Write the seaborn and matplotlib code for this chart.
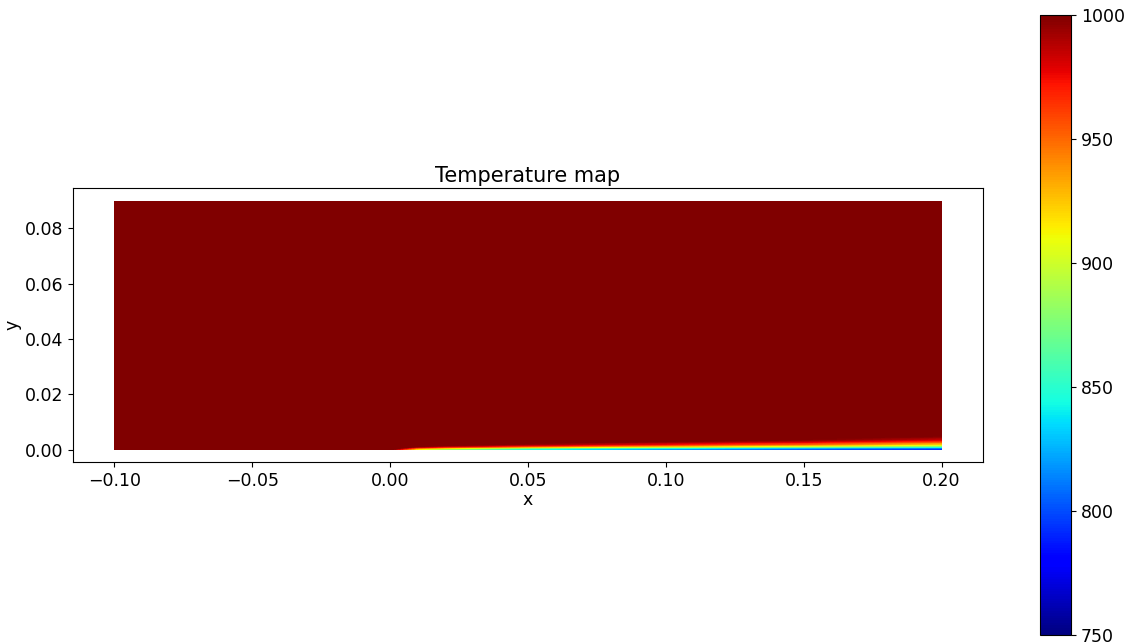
import numpy as np
import matplotlib
matplotlib.use("Agg")
import matplotlib.pyplot as plt
import seaborn as sns

# Free-stream and colour range
T_inf = 1000.0
T_min, T_max = 750.0, 1000.0

# Plate stations (plate starts at x = 0) with near-wall temperature and thermal layer thickness
x_station = [0.0, 0.01, 0.02, 0.05, 0.10, 0.15, 0.20]
wall_temp = [1000.0, 900.0, 870.0, 835.0, 810.0, 795.0, 785.0]
layer_thickness = [0.0, 0.0011, 0.0015, 0.0022, 0.0030, 0.0038, 0.0050]

# Normalised temperature profile across the layer (eta = y / thickness)
eta_profile = [0.0, 0.1, 0.2, 0.35, 0.5, 0.65, 0.8, 0.9, 1.0]
theta_profile = [0.0, 0.2, 0.4, 0.62, 0.78, 0.89, 0.96, 0.99, 1.0]

# Domain
x_edges = np.linspace(-0.1, 0.2, 601)
y_edges = np.linspace(0.0, 0.09, 451)
xc = 0.5 * (x_edges[:-1] + x_edges[1:])
yc = 0.5 * (y_edges[:-1] + y_edges[1:])

Tw = np.interp(xc, x_station, wall_temp, left=T_inf)
delta = np.interp(xc, x_station, layer_thickness, left=0.0)

T = np.full((yc.size, xc.size), T_inf)
for j in range(xc.size):
    if xc[j] > 0 and delta[j] > 0:
        theta = np.interp(yc / delta[j], eta_profile, theta_profile, right=1.0)
        T[:, j] = Tw[j] + (T_inf - Tw[j]) * theta

sns.set_style("ticks")
plt.rcParams.update({
    "font.family": ["DejaVu Sans"],
    "text.color": "black",
    "axes.labelcolor": "black",
    "xtick.color": "black",
    "ytick.color": "black",
    "axes.edgecolor": "black",
})

fig = plt.figure(figsize=(11.27, 6.44), dpi=100)
ax = fig.add_axes([0.0648, 0.2826, 0.8074, 0.4254])
cax = fig.add_axes([0.9228, 0.014, 0.0275, 0.963])

cmap = matplotlib.colormaps["jet"]
mesh = ax.pcolormesh(x_edges, y_edges, T, cmap=cmap, vmin=T_min, vmax=T_max,
                     shading="flat", rasterized=True)
ax.set_xlim(-0.115, 0.215)
ax.set_ylim(-0.0045, 0.0945)
ax.set_xticks([-0.10, -0.05, 0.00, 0.05, 0.10, 0.15, 0.20])
ax.set_yticks([0.00, 0.02, 0.04, 0.06, 0.08])
ax.set_xlabel("x", fontsize=12.5, labelpad=1)
ax.set_ylabel("y", fontsize=12.5, labelpad=2)
ax.set_title("Temperature map", fontsize=15, pad=4)
ax.tick_params(labelsize=12.5, length=3.5, width=0.8, colors="black")
for s in ax.spines.values():
    s.set_linewidth(0.8)
    s.set_color("black")

cb = fig.colorbar(mesh, cax=cax)
cb.set_ticks([750, 800, 850, 900, 950, 1000])
cb.ax.tick_params(labelsize=12.5, length=3.5, width=0.8, colors="black")
cb.outline.set_linewidth(0.8)
cb.outline.set_edgecolor("black")

fig.savefig("out.png", dpi=100)
